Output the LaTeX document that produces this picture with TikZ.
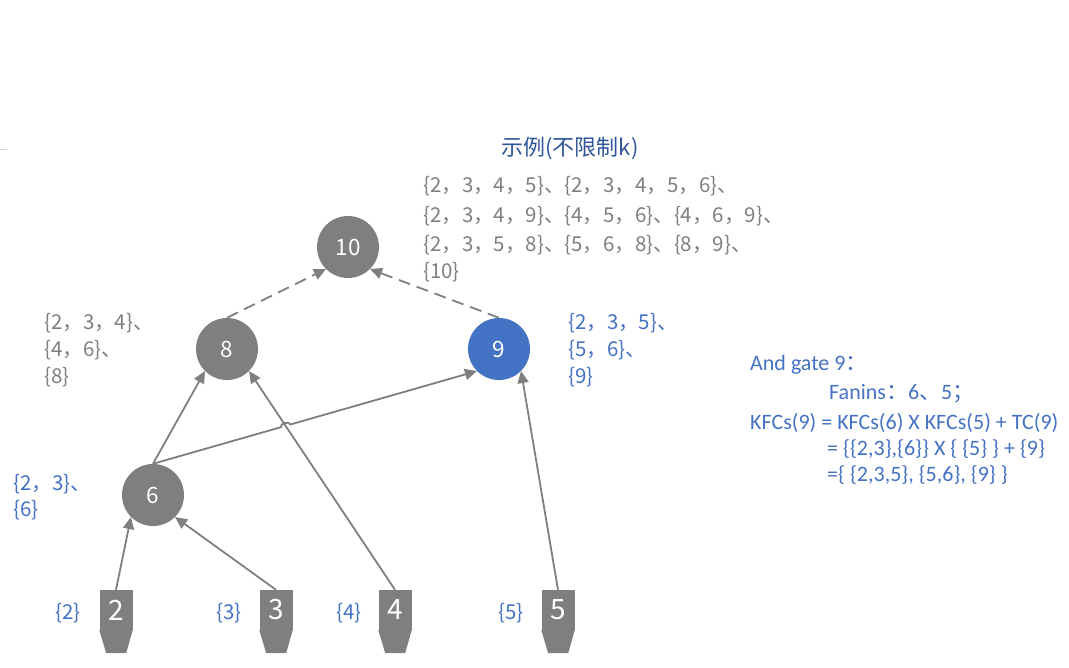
\documentclass[tikz,border=0pt]{standalone}
\usepackage{fontspec}
\setmainfont{Carlito}
\newfontfamily\cjk{Noto Sans CJK SC}
\usepackage{tikz}
\usetikzlibrary{arrows.meta, calc, intersections}
\definecolor{linegray}{RGB}{127,127,127}
\definecolor{gateblue}{RGB}{68,114,196}
\definecolor{titleblue}{RGB}{47,85,151}

\begin{document}
\begin{tikzpicture}[x=1pt, y=-1pt,
  gate/.style={circle, fill=linegray, minimum size=62pt, inner sep=0pt, text=white, font=\cjk\fontsize{22.5}{22.5}\selectfont},
  input/.style={fill=linegray, minimum width=33pt, minimum height=40pt, inner sep=0pt, text=white, font=\cjk\fontsize{28}{28}\selectfont},
  wire/.style={draw=linegray, line width=1.8pt, -{Triangle[length=12pt,width=11pt]}},
  setgray/.style={anchor=west, inner sep=0pt, text=linegray, font=\cjk\fontsize{20.5}{20.5}\selectfont},
  setblue/.style={setgray, text=gateblue},
  note/.style={anchor=west, inner sep=0pt, text=gateblue, font=\fontsize{22}{22}\selectfont}]
  \useasboundingbox (0,0) rectangle (1069,668);
  \draw[gray!35, line width=1pt] (0,150) -- (7,150);

  % title
  \node[text=titleblue, font=\cjk\fontsize{22}{22}\selectfont] (title) at (570,148) {示例(不限制k)};

  % gates
  \node[gate] (g10) at (348,247) {10};
  \node[gate] (g8) at (227,349) {8};
  \node[gate, fill=gateblue] (g9) at (499,349) {9};
  \node[gate] (g6) at (153,495) {6};

  % inputs: name/x/label x
  \foreach \n/\xx/\lx in {2/116/68, 3/276/229, 4/395/349, 5/558/511}{
    \node[input] (in\n) at (\xx,610) {\n};
    \fill[linegray] (in\n.south west) -- (in\n.south east) -- ++(-6.5,23) -- ++(-20,0) -- cycle;
    \node[setblue, anchor=center] (lbl\n) at (\lx,613) {\{\n\}};
  }

  % wires
  \draw[wire] (in2.north) -- (g6.south west);
  \draw[wire] (in3.north) -- (g6.south east);
  \draw[wire] (in4.north) -- (g8.south east);
  \draw[wire] (in5.north) -- (g9.south east);
  \draw[wire] (g6.north) -- (g8.south west);
  \path[name path=w48] (in4.north) -- (g8.south east);
  \path[name path=w69] (g6.north) -- (g9.south west);
  \path[name intersections={of=w48 and w69, by=hop}];
  \draw[wire] (g6.north) -- ($(hop)!5pt!(g6.north)$) to[bend left=90] ($(hop)!5pt!(g9.south west)$) -- (g9.south west);
  \draw[wire, dash pattern=on 12pt off 7pt] (g8.north) -- (g10.south west);
  \draw[wire, dash pattern=on 12pt off 7pt] (g9.north) -- (g10.south east);

  % cut sets
  \foreach \i/\yy/\txt in {1/186/{\{2，3，4，5\}、\{2，3，4，5，6\}、},
                           2/216/{\{2，3，4，9\}、\{4，5，6\}、\{4，6，9\}、},
                           3/245/{\{2，3，5，8\}、\{5，6，8\}、\{8，9\}、},
                           4/272/{\{10\}}}{
    \node[setgray] (top\i) at (423,\yy) {\txt};
  }
  \foreach \i/\yy/\txt in {1/323/{\{2，3，4\}、}, 2/350/{\{4，6\}、}, 3/377/{\{8\}}}{
    \node[setgray] (left\i) at (44,\yy) {\txt};
  }
  \foreach \i/\yy/\txt in {1/323/{\{2，3，5\}、}, 2/350/{\{5，6\}、}, 3/377/{\{9\}}}{
    \node[setblue] (right\i) at (568,\yy) {\txt};
  }
  \node[setblue] (low1) at (13,484) {\{2，3\}、};
  \node[setblue] (low2) at (13,510) {\{6\}};

  % note for gate 9
  \node[note] (note1) at (750,365) {And gate 9{\cjk ：}};
  \node[note] (note2) at (829,394) {Fanins{\cjk ：}6{\cjk 、}5{\cjk ；}};
  \node[note] (note3) at (750,423) {KFCs(9) = KFCs(6) X KFCs(5) + TC(9)};
  \node[note] (note4) at (827,449) {= \{\{2,3\},\{6\}\} X \{ \{5\} \} + \{9\}};
  \node[note] (note5) at (827,475) {=\{ \{2,3,5\}, \{5,6\}, \{9\} \}};
\end{tikzpicture}
\end{document}
